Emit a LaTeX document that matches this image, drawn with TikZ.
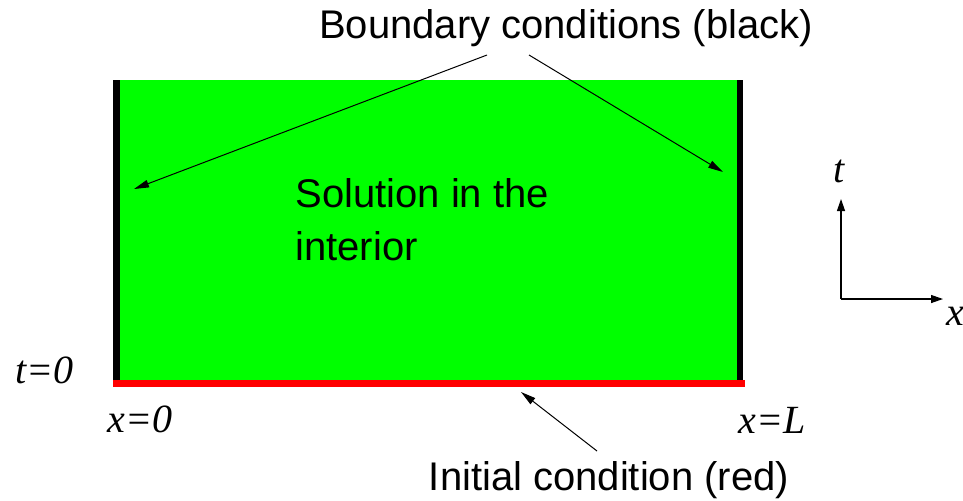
\documentclass[tikz,border=0pt]{standalone}
\usepackage{fontspec}
\setmainfont{Liberation Sans}
\newfontfamily\mathserif{Liberation Serif}
\usetikzlibrary{arrows.meta}
\definecolor{fieldgreen}{RGB}{0,255,0}
\definecolor{initred}{RGB}{255,0,0}
\begin{document}
\begin{tikzpicture}[x=0.5pt,y=-0.5pt,
  lbl/.style={inner sep=0pt,font=\fontsize{20}{26.5}\selectfont},
  mlbl/.style={inner sep=0pt,font=\fontsize{20}{24}\selectfont\mathserif\itshape},
  pointer/.style={line width=0.5pt,-{Triangle[length=7.5pt,width=3.8pt]}},
  axis/.style={line width=0.6pt,-{Triangle[length=6pt,width=4pt]}}]
\useasboundingbox (0,0) rectangle (963,500);
% domain
\fill[fieldgreen] (113,80) rectangle (743,383);
\fill[black] (113,80) rectangle (120,383);
\fill[black] (736.5,80) rectangle (743,383);
\fill[initred] (112.5,380) rectangle (745,386.5);
% texts
\node[lbl,anchor=base] (bc) at (566,38) {Boundary conditions (black)};
\node[lbl,anchor=base west,align=left] (sol) at (295,260) {Solution in the\\interior};
\node[lbl,anchor=base] (ic) at (609,490) {Initial condition (red)};
\node[mlbl,anchor=base west] (t0) at (15,383) {t=0};
\node[mlbl,anchor=base west] (x0) at (107,432) {x=0};
\node[mlbl,anchor=base west] (xL) at (738,433) {x=L};
\node[mlbl,anchor=base west] (tax) at (833,182) {t};
\node[mlbl,anchor=base west] (xax) at (946,325) {x};
% pointer coordinates
\coordinate (bcl) at (487,55);
\coordinate (bcr) at (529,55);
\coordinate (tipl) at (134,189);
\coordinate (tipr) at (723,172);
\coordinate (ics) at (597,451);
\coordinate (ict) at (521,392);
\draw[pointer] (bcl) -- (tipl);
\draw[pointer] (bcr) -- (tipr);
\draw[pointer] (ics) -- (ict);
% axes
\coordinate (o) at (841,299);
\coordinate (oy) at (841,199);
\coordinate (ox) at (943,299);
\draw[axis] (o) -- (oy);
\draw[axis] (o) -- (ox);
\end{tikzpicture}
\end{document}
